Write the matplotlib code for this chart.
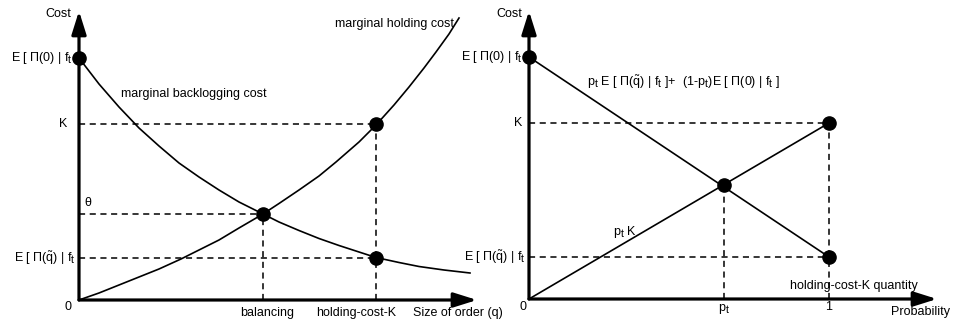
import matplotlib
matplotlib.use("Agg")
import matplotlib.pyplot as plt
import matplotlib._mathtext as mathtext_internals

plt.rcParams['font.family'] = ['Liberation Sans', 'DejaVu Sans']
plt.rcParams['mathtext.fontset'] = 'custom'
plt.rcParams['mathtext.rm'] = 'Liberation Sans'
plt.rcParams['mathtext.it'] = 'Liberation Sans:italic'
# subscripts in the original are nearly full size
mathtext_internals.SHRINK_FACTOR = 0.85

# ---- values (cost in arbitrary units) ----
cost_E0 = 242      # E[Pi(0)|f_t]
cost_K = 176       # K
cost_Eq = 42       # E[Pi(q~)|f_t]
cost_theta = 86    # theta

# left panel: order size q
q_balancing = 184
q_holding_K = 297
backlog_q = [0, 20, 40, 60, 80, 100, 120, 140, 160, 184, 200, 220, 240, 260,
             280, 297, 320, 340, 365, 391]
backlog_cost = [242, 216, 193, 172, 154, 137, 123, 110, 98, 86, 78, 69.5, 61.5,
                54.5, 48, 42.5, 37.5, 33.5, 30, 27]
holding_q = [0, 20, 40, 60, 80, 102, 120, 140, 160, 184, 200, 220, 240, 257,
             280, 297, 315, 330, 345, 357, 370, 380]
holding_cost = [0, 7, 15, 23, 31, 41, 50, 60, 72, 86, 96.5, 110, 124, 138,
                158, 175, 195, 213, 232, 248, 266, 282]

# right panel: probability
p_t = 0.65
prob_ends = [0, 1]
mix_cost = [cost_E0, cost_Eq]
ptK_cost = [0, cost_K]

FS = 9
E0_lbl = r'E [ $\mathrm{\Pi(0)}$ | f$_\mathrm{t}$'
Eq_lbl = r'E [ $\mathrm{\Pi(\tilde{q})}$ | f$_\mathrm{t}$'
dash = dict(color='black', lw=1.1, linestyle=(0, (4, 3)))
dot = dict(marker='o', color='black', ms=9.5, linestyle='none', clip_on=False, zorder=5)
arrow = dict(arrowstyle='-|>,head_length=0.7,head_width=0.22', lw=2.3, color='black',
             mutation_scale=20, shrinkA=0, shrinkB=0)

fig = plt.figure(figsize=(9.54, 3.21), dpi=100)

# ---------------- left panel ----------------
H = 295
ax = fig.add_axes([79 / 954, 21 / 321, 400 / 954, H / 321])
ax.set_xlim(0, 400)
ax.set_ylim(0, H)
ax.axis('off')
ax.annotate('', xy=(398, 0), xytext=(0, 0), arrowprops=arrow, annotation_clip=False)
ax.annotate('', xy=(0, 289), xytext=(0, 0), arrowprops=arrow, annotation_clip=False)

ax.plot(backlog_q, backlog_cost, color='black', lw=1.2, clip_on=False)
ax.plot(holding_q, holding_cost, color='black', lw=1.2, clip_on=False)

ax.plot([0, q_holding_K], [cost_K, cost_K], **dash)
ax.plot([q_holding_K, q_holding_K], [0, cost_K], **dash)
ax.plot([0, q_balancing], [cost_theta, cost_theta], **dash)
ax.plot([q_balancing, q_balancing], [0, cost_theta], **dash)
ax.plot([0, q_holding_K], [cost_Eq, cost_Eq], **dash)

ax.plot([0, q_balancing, q_holding_K, q_holding_K],
        [cost_E0, cost_theta, cost_K, cost_Eq], **dot)

ax.text(-21, 286, 'Cost', fontsize=FS, ha='center', va='center')
ax.text(-6, cost_E0, E0_lbl, fontsize=FS, ha='right', va='center')
ax.text(-12, cost_K, 'K', fontsize=FS, ha='right', va='center')
ax.text(5, 97, 'θ', fontsize=FS, ha='left', va='center')
ax.text(-3, cost_Eq, Eq_lbl, fontsize=FS, ha='right', va='center')
ax.text(-11, -7, '0', fontsize=FS, ha='center', va='center')
ax.text(42, 206, 'marginal backlogging cost', fontsize=FS, ha='left', va='center')
ax.text(256, 276, 'marginal holding cost', fontsize=FS, ha='left', va='center')
ax.text(188, -13, 'balancing', fontsize=FS, ha='center', va='center')
ax.text(277, -13, 'holding-cost-K', fontsize=FS, ha='center', va='center')
ax.text(334, -13, 'Size of order (q)', fontsize=FS, ha='left', va='center')

# ---------------- right panel ----------------
ax2 = fig.add_axes([529 / 954, 22 / 321, 420 / 954, H / 321])
ax2.set_xlim(0, 1.4)
ax2.set_ylim(0, H)
ax2.axis('off')
ax2.annotate('', xy=(1.36, 0), xytext=(0, 0), arrowprops=arrow, annotation_clip=False)
ax2.annotate('', xy=(0, 288), xytext=(0, 0), arrowprops=arrow, annotation_clip=False)

ax2.plot(prob_ends, mix_cost, color='black', lw=1.2)
ax2.plot(prob_ends, ptK_cost, color='black', lw=1.2)

ax2.plot([0, 1], [cost_K, cost_K], **dash)
ax2.plot([1, 1], [0, cost_K], **dash)
ax2.plot([0, 1], [cost_Eq, cost_Eq], **dash)
ax2.plot([p_t, p_t], [0, p_t * cost_K], **dash)

ax2.plot([0, 1, p_t, 1], [cost_E0, cost_K, p_t * cost_K, cost_Eq], **dot)

ax2.text(-0.067, 285, 'Cost', fontsize=FS, ha='center', va='center')
ax2.text(-0.02, cost_E0, E0_lbl, fontsize=FS, ha='right', va='center')
ax2.text(-0.023, cost_K, 'K', fontsize=FS, ha='right', va='center')
ax2.text(-0.01, cost_Eq, Eq_lbl, fontsize=FS, ha='right', va='center')
ax2.text(-0.02, -8, '0', fontsize=FS, ha='center', va='center')
ax2.text(p_t, -10, r'p$_\mathrm{t}$', fontsize=FS, ha='center', va='center')
ax2.text(1, -8, '1', fontsize=FS, ha='center', va='center')
ax2.text(1.405, -13, 'Probability', fontsize=FS, ha='right', va='center')
ax2.text(0.87, 13, 'holding-cost-K quantity', fontsize=FS, ha='left', va='center')
ax2.text(0.28, 67, r'p$_\mathrm{t}$ K', fontsize=FS, ha='left', va='center')
ax2.text(0.193, 217,
         r'p$_\mathrm{t}$ E [ $\mathrm{\Pi(\tilde{q})}$ | f$_\mathrm{t}$ ]+  '
         r'(1-p$_\mathrm{t}$)E [ $\mathrm{\Pi(0)}$ | f$_\mathrm{t}$ ]',
         fontsize=FS, ha='left', va='center')

fig.savefig('out.png', dpi=100)
